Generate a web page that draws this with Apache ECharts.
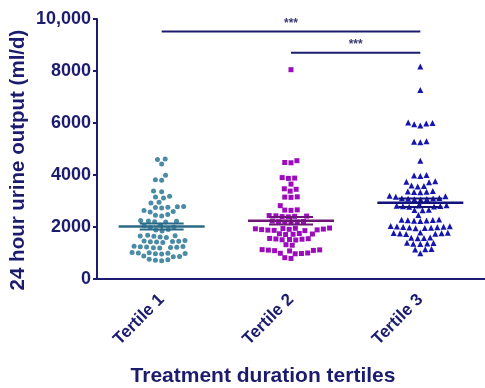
<!DOCTYPE html>
<html><head><meta charset="utf-8">
<script src="https://cdn.jsdelivr.net/npm/echarts@6/dist/echarts.min.js"></script>
<style>html,body{margin:0;padding:0;background:#fff}#c{width:485px;height:388px}</style>
</head><body><div id="c"></div>
<script>
const categories = ['Tertile 1', 'Tertile 2', 'Tertile 3'];
const tertile1 = [4620, 4600, 4420, 3990, 3820, 3800, 3380, 3360, 3180, 3150, 3120, 2950, 2920,
  2790, 2780, 2760, 2750, 2730, 2630, 2600, 2580, 2480, 2450, 2420, 2250, 2230, 2220, 2200, 2190,
  2080, 2050, 2000, 1980, 1900, 1880, 1850, 1680, 1660, 1650, 1640, 1620, 1600,
  1480, 1460, 1450, 1440, 1430, 1420, 1400, 1260, 1250, 1240, 1230, 1220, 1210, 1200, 1190,
  1020, 1010, 1000, 990, 980, 970, 960, 880, 870, 860, 760, 740, 720, 700];
const tertile2 = [8050, 4550, 4480, 4470, 3900, 3880, 3870, 3650, 3470, 3450, 3380, 3160, 3150, 3140,
  2820, 2660, 2650, 2640, 2440, 2430, 2420, 2410, 2400, 2390, 2230, 2210, 2200, 2190, 2180, 2170,
  1960, 1950, 1940, 1930, 1920, 1910, 1900, 1890, 1880, 1870, 1860, 1750, 1740, 1730, 1720, 1710,
  1560, 1550, 1540, 1530, 1520, 1510, 1500, 1320, 1300, 1130, 1120, 1110, 1100, 1090, 1080,
  1000, 990, 980, 970, 820, 790];
const tertile3 = [8170, 7270, 6020, 5980, 5900, 5950, 6000, 5300, 5280, 5260, 4550, 4000, 3980, 3960,
  3760, 3740, 3720, 3600, 3580, 3560, 3380, 3370, 3360, 3350, 3340, 3200, 3180, 3160,
  3120, 3110, 3100, 3090, 3080, 3070, 3060, 2840, 2830, 2820, 2810, 2800, 2790, 2780,
  2660, 2650, 2640, 2460, 2290, 2280, 2270, 2260, 2250, 2240, 2230,
  2040, 2030, 2020, 2010, 2000, 1990, 1980, 1970, 1960, 1950, 1790, 1780, 1770, 1760, 1750, 1740, 1730,
  1600, 1590, 1580, 1570, 1390, 1380, 1370, 1360, 1350, 1150, 1140, 1130, 990];
const yTicks = [0, 2000, 4000, 6000, 8000, 10000];
const yTickLabels = ['0', '2000', '4000', '6000', '8000', '10,000'];
const comparisons = [[0, 2, '***'], [1, 2, '***']];
const comparisonLevels = [9520, 8700];
const yTitle = '24 hour urine output (ml/d)';
const xTitle = 'Treatment duration tertiles';

const groups = [tertile1, tertile2, tertile3];
const pointColors = ['#4a8ba6', '#9c0cbc', '#1414b0'];
const meanColors = ['#2b6a86', '#6e1678', '#12127a'];
const symbols = ['circle', 'rect', 'triangle'];
const navy = '#1c1c6e';
const FONT = '"Liberation Sans", Arial, sans-serif';

const grid = {left: 97, top: 19, width: 390, height: 260};
const yMax = yTicks[yTicks.length - 1];
const pxY = grid.height / yMax;
const pxX = grid.width / categories.length;

function swarm(vals, d) {
  const sorted = vals.slice().sort((a, b) => a - b);
  const placed = [];
  return sorted.map(v => {
    const y = v * pxY;
    const near = placed.filter(p => Math.abs(p.y - y) < d);
    const cands = [0];
    near.forEach(p => { const w = Math.sqrt(d * d - (p.y - y) ** 2); cands.push(p.x - w, p.x + w); });
    cands.sort((a, b) => Math.abs(a) - Math.abs(b) || a - b);
    let x = 0;
    for (const c of cands) {
      if (near.every(p => Math.hypot(p.x - c, p.y - y) >= d - 1e-6)) { x = c; break; }
    }
    placed.push({x, y});
    return [x, v];
  });
}
function meanSem(a) {
  const n = a.length, m = a.reduce((s, v) => s + v, 0) / n;
  const sd = Math.sqrt(a.reduce((s, v) => s + (v - m) ** 2, 0) / (n - 1));
  return [m, sd / Math.sqrt(n)];
}

const series = groups.map((g, i) => ({
  type: 'scatter', xAxisIndex: 1,
  symbol: symbols[i], symbolSize: i === 2 ? 6 : 5,
  itemStyle: {color: pointColors[i], opacity: 1},
  data: swarm(g, 6.3).map(p => [i + p[0] / pxX, p[1]]),
  z: 2, silent: true
}));
series.push({
  type: 'custom', xAxisIndex: 1, z: 5, silent: true,
  data: groups.map((g, i) => { const ms = meanSem(g); return [i, ms[0], ms[1]]; }),
  renderItem(params, api) {
    const i = api.value(0), m = api.value(1), s = api.value(2);
    const c = api.coord([i, m]);
    const top = api.coord([i, m + s])[1], bot = api.coord([i, m - s])[1];
    const W = 43, w = 22;
    const style = {stroke: meanColors[i], lineWidth: 2};
    return {type: 'group', children: [
      {type: 'line', shape: {x1: c[0] - W, y1: c[1], x2: c[0] + W, y2: c[1]}, style: {stroke: meanColors[i], lineWidth: 2.5}},
      {type: 'line', shape: {x1: c[0] - w, y1: top, x2: c[0] + w, y2: top}, style},
      {type: 'line', shape: {x1: c[0] - w, y1: bot, x2: c[0] + w, y2: bot}, style},
      {type: 'line', shape: {x1: c[0], y1: top, x2: c[0], y2: bot}, style}
    ]};
  }
});
series.push({
  type: 'custom', xAxisIndex: 1, z: 5, silent: true,
  data: comparisons.map((c, k) => [c[0], c[1], comparisonLevels[k], k]),
  renderItem(params, api) {
    const a = api.coord([api.value(0), api.value(2)]);
    const b = api.coord([api.value(1), api.value(2)]);
    const k = api.value(3);
    return {type: 'group', children: [
      {type: 'line', shape: {x1: a[0], y1: a[1], x2: b[0], y2: b[1]}, style: {stroke: navy, lineWidth: 2}},
      {type: 'text', x: (a[0] + b[0]) / 2, y: a[1] - 8,
        style: {text: comparisons[k][2], fill: '#3c3c70', font: 'bold 12px ' + FONT, align: 'center', verticalAlign: 'middle'}}
    ]};
  }
});

const chart = echarts.init(document.getElementById('c'), null, {renderer: 'canvas'});
chart.setOption({
  animation: false,
  grid: grid,
  textStyle: {fontFamily: FONT},
  graphic: [
    {type: 'text', x: 18, y: 160, rotation: Math.PI / 2,
      style: {text: yTitle, fill: navy, font: 'bold 20.5px ' + FONT, align: 'center', verticalAlign: 'middle'}},
    {type: 'text', x: 263, y: 376,
      style: {text: xTitle, fill: navy, font: 'bold 21px ' + FONT, align: 'center', verticalAlign: 'middle'}}
  ],
  xAxis: [{
    type: 'category', data: categories, boundaryGap: true,
    axisLine: {lineStyle: {color: navy, width: 2}},
    axisTick: {alignWithLabel: true, length: 4, lineStyle: {color: navy, width: 2}},
    axisLabel: {rotate: 45, color: navy, fontWeight: 'bold', fontSize: 17, margin: 18},
    splitLine: {show: false}
  }, {
    type: 'value', min: -0.5, max: 2.5, show: false
  }],
  yAxis: {
    type: 'value', min: 0, max: yMax, interval: 2000,
    axisLine: {show: true, onZero: false, lineStyle: {color: navy, width: 2}},
    axisTick: {show: true, length: 4, lineStyle: {color: navy, width: 2}},
    axisLabel: {color: navy, fontWeight: 'bold', fontSize: 18, margin: 6,
      formatter: v => yTickLabels[yTicks.indexOf(v)]},
    splitLine: {show: false}
  },
  series: series
});
</script></body></html>
